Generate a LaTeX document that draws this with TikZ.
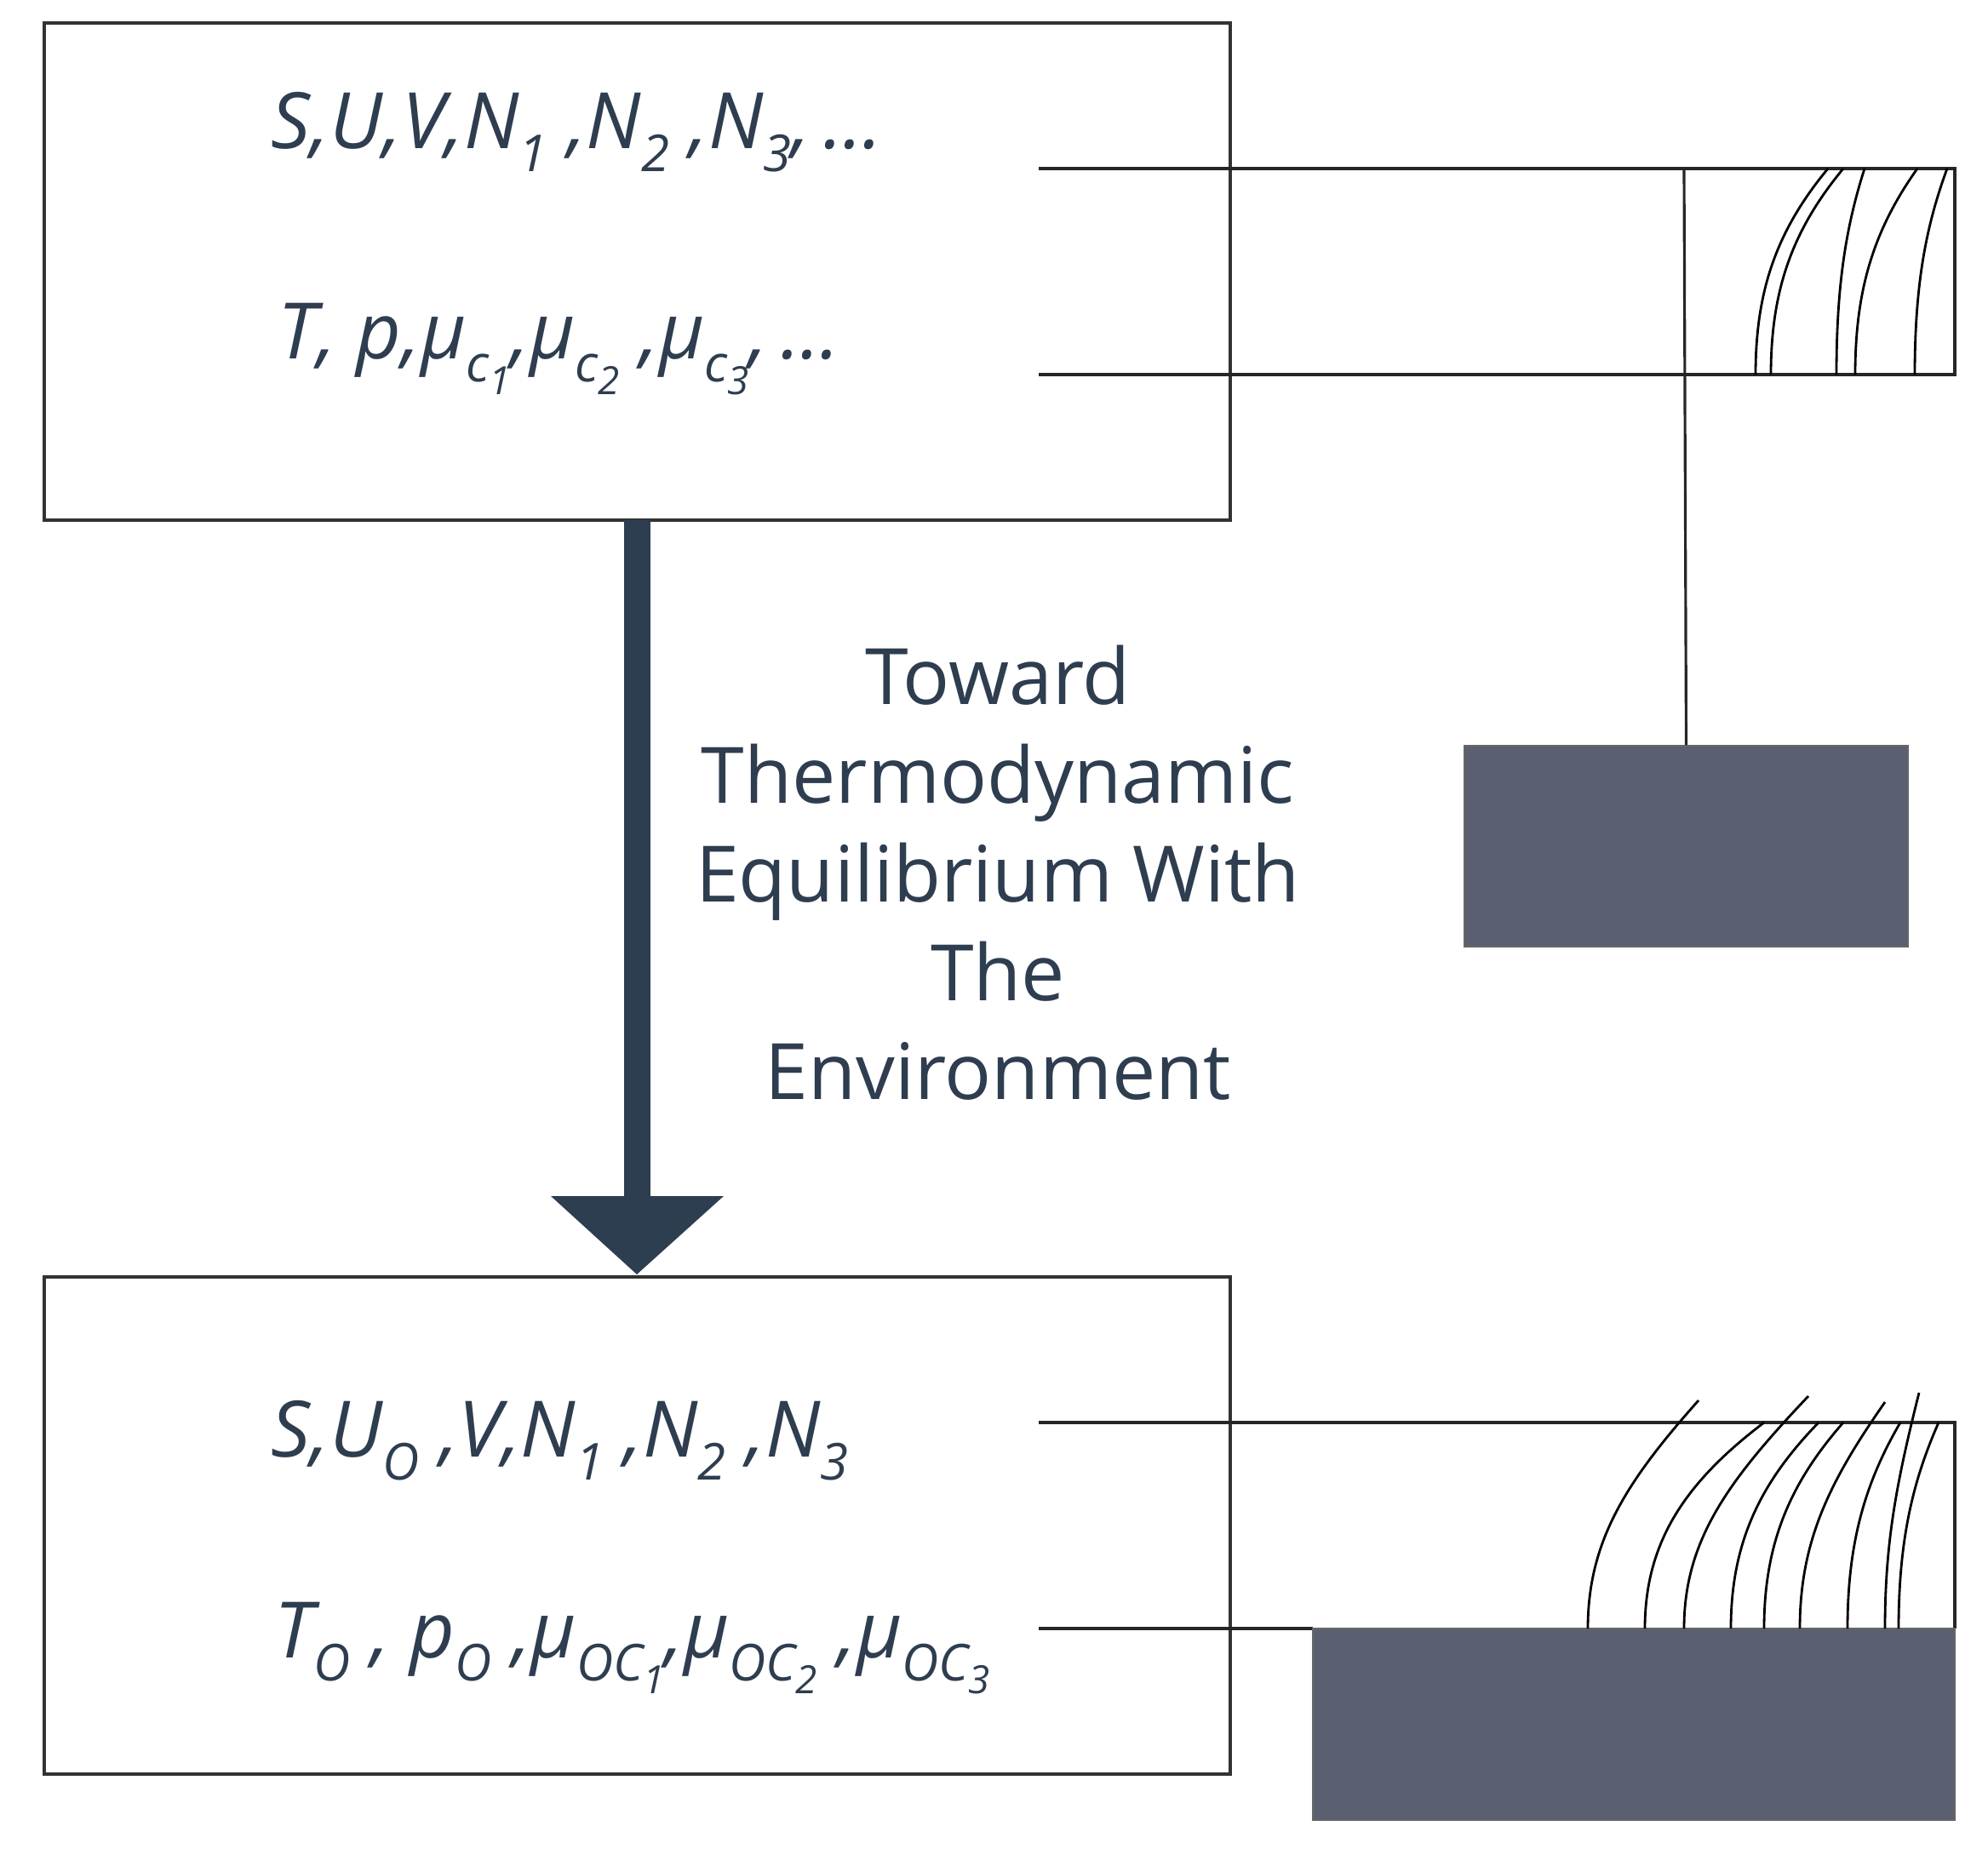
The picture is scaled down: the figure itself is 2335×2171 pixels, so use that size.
\documentclass[tikz,border=0pt]{standalone}
\usepackage{fontspec}
\setmainfont{Open Sans}
\definecolor{txt}{HTML}{2E3D4F}
\definecolor{arr}{HTML}{2C3E50}
\definecolor{blk}{HTML}{5A6070}
\newcommand{\lo}[1]{\raisebox{-0.55ex}{\fontsize{17}{17}\selectfont #1}}
\newcommand{\llo}[1]{\raisebox{-0.45ex}{\fontsize{13}{13}\selectfont #1}}
\begin{document}
\begin{tikzpicture}[x=0.01cm,y=-0.01cm,
  box/.style={draw=black!80,line width=1.2pt},
  thin/.style={draw=black!85,line width=0.9pt},
  fib/.style={draw=black,line width=0.8pt},
  eq/.style={text=txt,font=\fontsize{26}{30}\selectfont\itshape,anchor=west,inner sep=0},
  lab/.style={text=txt,font=\fontsize{26}{33}\selectfont,align=center}]
\useasboundingbox (0,0) rectangle (2335,2171);
% boxes
\draw[box] (52,27) rectangle (1445,611);
\draw[box] (52,1500) rectangle (1445,2084);
% arrow
\fill[arr] (733,611) rectangle (764,1407);
\fill[arr] (647,1405) -- (850,1405) -- (748,1497) -- cycle;
\node[lab] (t) at (1172,1025) {Toward\\Thermodynamic\\Equilibrium With\\The\\Environment};
% texts
\node[eq] (e1) at (318,155) {S,U,V,N\lo{1} ,N\lo{2} ,N\lo{3},\,...};
\node[eq] (e2) at (326,410) {T, p,μ\lo{c\llo{1}},μ\lo{c\llo{2}} ,μ\lo{c\llo{3}},\,...};
\node[eq] (e3) at (318,1692) {S,U\lo{O} ,V,N\lo{1} ,N\lo{2} ,N\lo{3}};
\node[eq] (e4) at (322,1936) {T\lo{O} , p\lo{O} ,μ\lo{OC\llo{1}},μ\lo{OC\llo{2}} ,μ\lo{OC\llo{3}}};
% top cylinder
\draw[thin] (1220,198) -- (2296,198) -- (2296,440) -- (1220,440);
\node[fill=blk,draw=black!60,minimum width=5.21cm,minimum height=2.36cm,inner sep=0] (w) at (1980.5,994) {};
\draw[thin] (1978,198) -- (w.north);
\foreach \b/\t in {2062/2147,2080/2165,2157/2190,2179/2252,2249/2287}
  \draw[fib] (\b,440) .. controls (\b,340) and ({\b+0.3*(\t-\b)},270) .. (\t,198);
% bottom cylinder
\draw[thin] (1220,1671) -- (2296,1671) -- (2296,1913);
\draw[thin] (1220,1913) -- (1542,1913);
\fill[blk,draw=black!60] (1542,1913) rectangle (2296,2138);
\foreach \b/\t/\ty in {1865/1995/1645,1932/2072/1671,1978/2124/1640,2033/2136/1671,2072/2165/1671,2114/2214/1647,2170/2232/1671,2214/2254/1636,2230/2277/1671}
  \draw[fib] (\b,1913) .. controls (\b,1810) and ({\b+0.35*(\t-\b)},1740) .. (\t,\ty);
\end{tikzpicture}
\end{document}
